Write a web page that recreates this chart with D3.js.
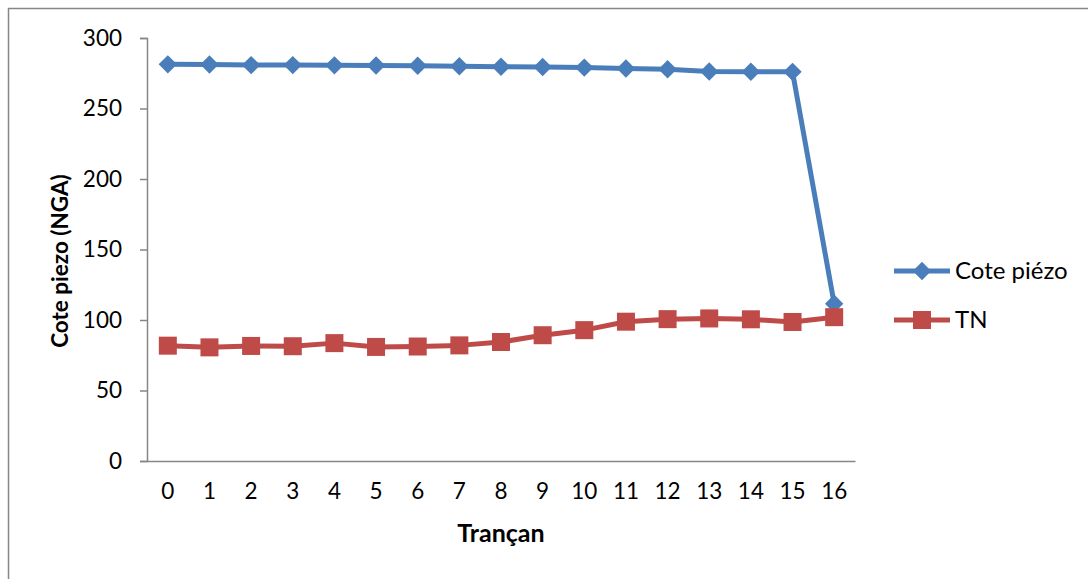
<!DOCTYPE html>
<html>
<head>
<meta charset="utf-8">
<script src="https://cdn.jsdelivr.net/npm/d3@7"></script>
<style>
  html, body { margin: 0; padding: 0; background: #fff; }
  svg { display: block; }
  text { font-family: Lato, "Open Sans", sans-serif; fill: #000; }
</style>
</head>
<body>
<svg id="chart" width="1088" height="579"></svg>
<script>
// Sections along the profile
const sections = [0, 1, 2, 3, 4, 5, 6, 7, 8, 9, 10, 11, 12, 13, 14, 15, 16];
// Piezometric level (m NGA)
const cotePiezo = [281.3, 281.2, 280.8, 280.8, 280.6, 280.5, 280.3, 280.0, 279.6, 279.4, 279.0, 278.4, 277.8, 276.2, 276.1, 276.0, 111.5];
// Ground level (TN)
const tn = [81.8, 80.6, 81.6, 81.4, 83.6, 80.9, 81.2, 82.0, 84.4, 89.2, 92.8, 98.8, 100.6, 101.1, 100.5, 98.6, 102.0];
const yTicks = [0, 50, 100, 150, 200, 250, 300];

const seriesNames = ["Cote piézo", "TN"];
const seriesColors = ["#4A7EBB", "#BE4B48"];

const svg = d3.select("#chart");

// chart frame
svg.append("rect")
  .attr("x", 8.5).attr("y", 8.5)
  .attr("width", 1200).attr("height", 700)
  .attr("fill", "none").attr("stroke", "#868686").attr("stroke-width", 1.5);

const x = d3.scaleBand().domain(sections).range([147, 855]);
const y = d3.scaleLinear().domain([0, 300]).range([461, 38]);
const cx = d => x(d) + x.bandwidth() / 2;

// Y axis
const yAxis = svg.append("g")
  .attr("transform", "translate(147,0)")
  .call(d3.axisLeft(y).tickValues(yTicks).tickSize(7).tickPadding(18));
yAxis.select(".domain").attr("stroke", "#868686").attr("stroke-width", 1.5);
yAxis.selectAll(".tick line").attr("stroke", "#868686").attr("stroke-width", 1.5);
yAxis.selectAll(".tick text").style("font-size", "22.5px").style("font-family", "Lato, sans-serif");

// X axis
const xAxis = svg.append("g")
  .attr("transform", "translate(0,461)")
  .call(d3.axisBottom(x).tickSize(0).tickPadding(22));
xAxis.select(".domain").attr("stroke", "#868686").attr("stroke-width", 1.5);
xAxis.selectAll(".tick text").style("font-size", "22.5px").style("font-family", "Lato, sans-serif");

// Axis titles
svg.append("text")
  .attr("x", 501).attr("y", 542)
  .attr("text-anchor", "middle")
  .style("font-size", "25px").style("font-weight", "bold")
  .text("Trançan");

svg.append("text")
  .attr("transform", "translate(68,261) rotate(-90)")
  .attr("text-anchor", "middle")
  .style("font-size", "22.5px").style("font-weight", "bold")
  .text("Cote piezo (NGA)");

// Series
const series = [cotePiezo, tn];
const line = d3.line().x((d, i) => cx(sections[i])).y(d => y(d));

series.forEach((vals, s) => {
  svg.append("path")
    .datum(vals)
    .attr("d", line)
    .attr("fill", "none")
    .attr("stroke", seriesColors[s])
    .attr("stroke-width", 5)
    .attr("stroke-linejoin", "round");
});

const diamond = d3.symbol().type(d3.symbolSquare).size(13 * 13);
// Markers: diamonds for piezometric level, squares for ground level
svg.append("g").selectAll("path")
  .data(cotePiezo)
  .join("path")
  .attr("d", diamond)
  .attr("transform", (d, i) => `translate(${cx(sections[i])},${y(d)}) rotate(45)`)
  .attr("fill", seriesColors[0]);

svg.append("g").selectAll("rect")
  .data(tn)
  .join("rect")
  .attr("x", (d, i) => cx(sections[i]) - 9)
  .attr("y", d => y(d) - 9)
  .attr("width", 18).attr("height", 18)
  .attr("fill", seriesColors[1]);

// Legend
const legendY = [271, 320];
seriesNames.forEach((name, s) => {
  const g = svg.append("g").attr("transform", `translate(0,${legendY[s]})`);
  g.append("line")
    .attr("x1", 894).attr("x2", 950).attr("y1", 0).attr("y2", 0)
    .attr("stroke", seriesColors[s]).attr("stroke-width", 5);
  if (s === 0) {
    g.append("path").attr("d", diamond)
      .attr("transform", "translate(922,0) rotate(45)")
      .attr("fill", seriesColors[s]);
  } else {
    g.append("rect").attr("x", 913).attr("y", -9).attr("width", 18).attr("height", 18)
      .attr("fill", seriesColors[s]);
  }
  g.append("text")
    .attr("x", 955).attr("y", 0).attr("dy", "0.35em")
    .style("font-size", "24px")
    .text(name);
});
</script>
</body>
</html>
